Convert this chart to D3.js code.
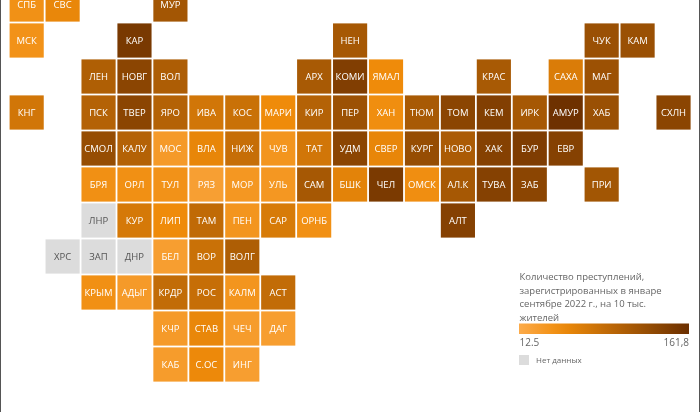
<!DOCTYPE html>
<html lang="ru"><head><meta charset="utf-8">
<script src="https://cdn.jsdelivr.net/npm/d3@7"></script>
<style>
html,body{margin:0;padding:0;background:#fff;overflow:hidden}
svg{display:block;filter:blur(0.45px)}
text{font-family:"Open Sans",sans-serif}
</style></head><body>
<svg id="c" width="700" height="412"></svg>
<script>
const regions=["СПБ","СВС","МУР","МСК","КАР","НЕН","ЧУК","КАМ","ЛЕН","НОВГ","ВОЛ","АРХ","КОМИ","ЯМАЛ","КРАС","САХА","МАГ","КНГ","ПСК","ТВЕР","ЯРО","ИВА","КОС","МАРИ","КИР","ПЕР","ХАН","ТЮМ","ТОМ","КЕМ","ИРК","АМУР","ХАБ","СХЛН","СМОЛ","КАЛУ","МОС","ВЛА","НИЖ","ЧУВ","ТАТ","УДМ","СВЕР","КУРГ","НОВО","ХАК","БУР","ЕВР","БРЯ","ОРЛ","ТУЛ","РЯЗ","МОР","УЛЬ","САМ","БШК","ЧЕЛ","ОМСК","АЛ.К","ТУВА","ЗАБ","ПРИ","ЛНР","КУР","ЛИП","ТАМ","ПЕН","САР","ОРНБ","АЛТ","ХРС","ЗАП","ДНР","БЕЛ","ВОР","ВОЛГ","КРЫМ","АДЫГ","КРДР","РОС","КАЛМ","АСТ","КЧР","СТАВ","ЧЕЧ","ДАГ","КАБ","С.ОС","ИНГ"];
const columns=[0,1,4,0,3,9,16,17,2,3,4,8,9,10,13,15,16,0,2,3,4,5,6,7,8,9,10,11,12,13,14,15,16,18,2,3,4,5,6,7,8,9,10,11,12,13,14,15,2,3,4,5,6,7,8,9,10,11,12,13,14,16,2,3,4,5,6,7,8,12,1,2,3,4,5,6,2,3,4,5,6,7,4,5,6,7,4,5,6];
const rows=[0,0,0,1,1,1,1,1,2,2,2,2,2,2,2,2,2,3,3,3,3,3,3,3,3,3,3,3,3,3,3,3,3,3,4,4,4,4,4,4,4,4,4,4,4,4,4,4,5,5,5,5,5,5,5,5,5,5,5,5,5,5,6,6,6,6,6,6,6,6,7,7,7,7,7,7,8,8,8,8,8,8,9,9,9,9,10,10,10];
const crimes=[43,55,114,42,150,112,122,122,104,135,106,110,143,50,110,68,120,75,100,135,100,75,82,50,100,120,47,110,135,142,112,159,122,135,125,100,32,56,85,38,75,135,56,125,108,140,145,140,44,44,42,26,36,36,112,60,148,46,112,140,135,115,null,72,50,90,38,70,44,140,null,null,null,28,82,105,44,32,88,85,38,88,32,55,30,28,30,52,28];
const legendTitle=["Количество преступлений,","зарегистрированных в январе","сентябре 2022 г., на 10 тыс.","жителей"];
const legendMin="12.5", legendMax="161,8", noDataLabel="Нет данных";

const svg=d3.select("#c");
const x=d3.scaleBand().domain(d3.range(19)).range([9.6,690.6]).paddingInner(0.05);
const y=d3.scaleBand().domain(d3.range(11)).range([-12.6,381.6]).paddingInner(0.05);
const color=d3.scaleLinear().domain([12.5,50,161.8]).range(["#fcab4a","#ef8b0a","#6b2f00"]).clamp(true);
const noData="#dcdcdc";

svg.append("rect").attr("x",0).attr("y",0).attr("width",1).attr("height",412).attr("fill","#555");
svg.append("rect").attr("x",699).attr("y",0).attr("width",1).attr("height",412).attr("fill","#555");
const cell=svg.selectAll("g.t").data(regions).join("g").attr("class","t");
cell.append("rect")
 .attr("x",(d,i)=>x(columns[i])).attr("y",(d,i)=>y(rows[i]))
 .attr("width",x.bandwidth()).attr("height",y.bandwidth())
 .attr("fill",(d,i)=>crimes[i]==null?noData:color(crimes[i]));
cell.append("text").text(d=>d)
 .attr("x",(d,i)=>x(columns[i])+x.bandwidth()/2).attr("y",(d,i)=>y(rows[i])+y.bandwidth()/2+3.6)
 .attr("text-anchor","middle").attr("font-size",9.5)
 .attr("fill",(d,i)=>crimes[i]==null?"#555":"#fff");

const g=svg.append("g");
g.selectAll("text.lt").data(legendTitle).join("text").attr("class","lt").text(d=>d)
 .attr("x",519.5).attr("y",(d,i)=>280+i*13.7).attr("font-size",9.5).attr("fill","#666");
const defs=svg.append("defs").append("linearGradient").attr("id","lg");
const stops=d3.range(0,1.01,0.1);
const lx=d3.scaleLinear().domain([12.5,161.8]).range([519,689]);
defs.selectAll("stop").data(stops).join("stop").attr("offset",d=>d)
 .attr("stop-color",d=>color(lx.invert(519+170*d)));
g.append("rect").attr("x",lx(12.5)).attr("y",323.5).attr("width",lx(161.8)-lx(12.5)).attr("height",10.5).attr("fill","url(#lg)");
g.append("text").text(legendMin).attr("x",519.5).attr("y",346).attr("font-size",10).attr("fill","#666");
g.append("text").text(legendMax).attr("x",689).attr("y",346).attr("text-anchor","end").attr("font-size",10).attr("fill","#666");
g.append("rect").attr("x",519).attr("y",355).attr("width",10).attr("height",10).attr("fill",noData);
g.append("text").text(noDataLabel).attr("x",536).attr("y",363).attr("font-size",8).attr("fill","#666");
</script></body></html>
